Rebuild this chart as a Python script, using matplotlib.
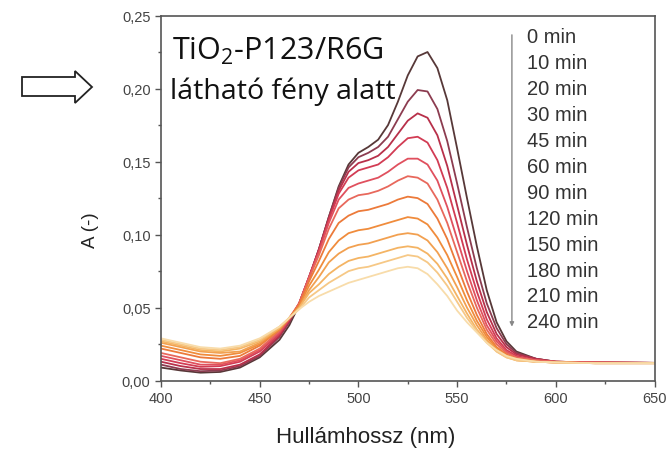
import matplotlib
matplotlib.use("Agg")
import matplotlib.pyplot as plt
from matplotlib.patches import Polygon
from matplotlib.ticker import MultipleLocator, FuncFormatter

plt.rcParams['font.family'] = ['Liberation Sans', 'DejaVu Sans']
plt.rcParams['mathtext.fontset'] = 'custom'
plt.rcParams['mathtext.rm'] = 'Open Sans'
plt.rcParams['mathtext.it'] = 'Open Sans'

wavelength = [400, 410, 420, 430, 440, 450, 460, 465, 470, 475, 480, 485, 490, 495, 500,
              505, 510, 515, 520, 525, 530, 535, 540, 545, 550, 555, 560, 565, 570, 575,
              580, 590, 600, 620, 650]

a_0min = [.009, .007, .0055, .006, .009, .016, .028, .038, .052, .070, .090, .112, .133, .148, .156,
          .160, .165, .175, .191, .209, .222, .225, .214, .192, .159, .125, .092, .062, .040, .027,
          .020, .015, .013, .0125, .0122]
a_10min = [.011, .008, .0065, .007, .010, .017, .030, .040, .053, .071, .090, .112, .132, .146, .153,
           .156, .160, .167, .179, .191, .199, .198, .186, .164, .135, .105, .077, .053, .036, .025,
           .019, .015, .013, .0125, .0122]
a_20min = [.013, .010, .008, .008, .011, .018, .031, .041, .053, .071, .090, .111, .130, .143, .149,
           .151, .154, .160, .169, .178, .183, .180, .168, .147, .120, .093, .068, .047, .032, .023,
           .018, .015, .013, .0125, .0122]
a_30min = [.015, .012, .0095, .010, .013, .020, .032, .042, .053, .071, .089, .110, .128, .139, .144,
           .146, .148, .153, .160, .166, .167, .163, .151, .132, .108, .083, .061, .042, .029, .021,
           .017, .014, .013, .0125, .0122]
a_45min = [.017, .014, .011, .011, .014, .021, .033, .042, .053, .071, .088, .108, .124, .132, .135,
           .137, .139, .143, .148, .152, .152, .148, .137, .119, .097, .075, .055, .038, .027, .020,
           .016, .014, .013, .0125, .0122]
a_60min = [.019, .016, .013, .012, .015, .022, .034, .043, .053, .070, .086, .104, .118, .124, .127,
           .128, .130, .133, .137, .140, .139, .135, .124, .108, .088, .068, .050, .035, .025, .019,
           .016, .014, .013, .0125, .0122]
a_90min = [.022, .019, .016, .015, .017, .024, .035, .043, .052, .068, .082, .097, .108, .113, .116,
           .117, .119, .121, .124, .126, .125, .121, .111, .097, .079, .061, .045, .032, .023, .018,
           .015, .013, .0125, .012, .012]
a_120min = [.024, .021, .018, .017, .019, .025, .035, .043, .051, .065, .076, .088, .096, .101, .103,
            .104, .106, .108, .110, .112, .111, .107, .098, .086, .071, .055, .041, .030, .022, .017,
            .015, .013, .0125, .012, .012]
a_150min = [.026, .023, .020, .019, .020, .026, .036, .043, .050, .062, .071, .081, .087, .091, .093,
            .094, .096, .098, .100, .101, .100, .096, .088, .077, .064, .050, .038, .028, .021, .017,
            .014, .013, .0125, .012, .012]
a_180min = [.027, .024, .021, .020, .022, .027, .036, .043, .050, .060, .066, .073, .078, .082, .084,
            .085, .087, .089, .091, .092, .091, .087, .080, .070, .058, .046, .035, .027, .020, .016,
            .014, .013, .0125, .012, .012]
a_210min = [.028, .025, .022, .021, .023, .028, .037, .043, .049, .057, .062, .067, .071, .075, .077,
            .078, .080, .082, .084, .086, .085, .081, .074, .065, .054, .043, .034, .026, .020, .016,
            .014, .013, .0125, .012, .012]
a_240min = [.029, .026, .023, .022, .024, .029, .037, .043, .049, .054, .058, .061, .064, .067, .069,
            .071, .073, .075, .077, .078, .077, .073, .066, .058, .048, .040, .033, .026, .021, .017,
            .015, .013, .0125, .012, .012]

series = [a_0min, a_10min, a_20min, a_30min, a_45min, a_60min, a_90min,
          a_120min, a_150min, a_180min, a_210min, a_240min]
time_labels = ["0 min", "10 min", "20 min", "30 min", "45 min", "60 min", "90 min",
               "120 min", "150 min", "180 min", "210 min", "240 min"]
colors = ['#573838', '#8c3c50', '#b8304a', '#d23c54', '#e0505e', '#e8685c', '#ec7a3a',
          '#f08c3c', '#f2a050', '#f4b464', '#f6c886', '#f8dcaa']

x_ticks = [400, 450, 500, 550, 600, 650]
y_ticks = [0.00, 0.05, 0.10, 0.15, 0.20, 0.25]

fig = plt.figure(figsize=(6.67, 4.56), dpi=100)
ax = fig.add_axes([0.2414, 0.1629, 0.7399, 0.8009])

for vals, col in zip(series, colors):
    ax.plot(wavelength, vals, color=col, lw=1.3, solid_joinstyle='round')

ax.set_xlim(400, 650)
ax.set_ylim(0, 0.25)
ax.set_xticks(x_ticks)
ax.set_yticks(y_ticks)
ax.xaxis.set_minor_locator(MultipleLocator(25))
ax.yaxis.set_minor_locator(MultipleLocator(0.025))
ax.yaxis.set_major_formatter(FuncFormatter(lambda v, p: f"{v:.2f}".replace('.', ',')))
ax.tick_params(which='major', direction='out', length=4, width=1, color='#555555',
               labelsize=10.5, labelcolor='#444444')
ax.tick_params(which='minor', direction='out', length=2.5, width=1, color='#555555')
for s in ax.spines.values():
    s.set_color('#555555')
    s.set_linewidth(1.2)

ax.set_xlabel("Hullámhossz (nm)", fontsize=16, color='#222222')
ax.xaxis.set_label_coords(0.415, -0.125)
ax.set_ylabel("A (-)", fontsize=13.5, color='#222222')
ax.yaxis.set_label_coords(-0.125, 0.415)

ax.text(0.022, 0.905, r"TiO$_\mathrm{2}$-P123/R6G", transform=ax.transAxes,
        fontsize=22, family='Open Sans', color='#111111', va='center', ha='left')
ax.text(0.018, 0.795, "látható fény alatt", transform=ax.transAxes,
        fontsize=20.5, family='Open Sans', color='#111111', va='center', ha='left')

y0, dy = 0.9416, 0.07096
for i, lab in enumerate(time_labels):
    ax.text(0.7416, y0 - i * dy, lab, transform=ax.transAxes, fontsize=14.5,
            color='#333333', va='center', ha='left')
ax.annotate("", xy=(0.711, 0.148), xytext=(0.711, 0.947), xycoords='axes fraction',
            arrowprops=dict(arrowstyle='-|>', color='#888888', lw=1.0,
                            mutation_scale=6, shrinkA=0, shrinkB=0))

W, H = 667.0, 456.0
pts = [(22, 78), (75, 78), (75, 72), (92, 88), (75, 104), (75, 97), (22, 97)]
arrow = Polygon([(x / W, 1 - y / H) for x, y in pts], closed=True,
                transform=fig.transFigure, facecolor='white', edgecolor='#222222', lw=1.3)
fig.patches.append(arrow)

fig.savefig("out.png", dpi=100)
